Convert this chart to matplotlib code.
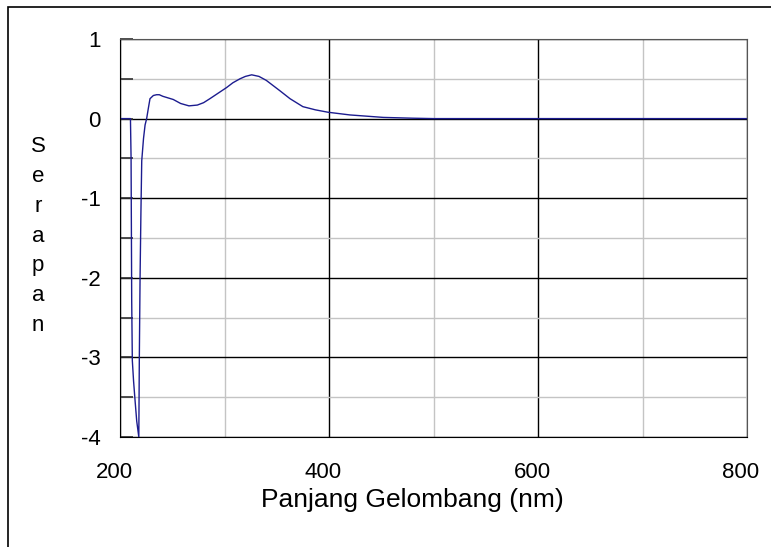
import matplotlib.pyplot as plt
from matplotlib.patches import Rectangle
from matplotlib.ticker import MultipleLocator
from matplotlib.transforms import ScaledTranslation

plt.rcParams['font.family'] = ['Liberation Sans', 'DejaVu Sans']
plt.rcParams['axes.unicode_minus'] = False

# data
wavelength = [200, 205, 210, 210.6, 211.2, 211.8, 213.0, 214.4, 216.0, 218.0, 218.5,
              219.2, 220.0, 220.8, 222.5, 224.0, 225.5, 227.0, 228.7, 231.9, 235.0,
              237.6, 241.0, 246.0, 251.0, 258.0, 266.0, 274.0, 280.0, 286.0, 294.0,
              302.0, 308.0, 314.8, 320.0, 326.0, 333.0, 340.0, 346.0, 353.0, 362.7,
              375.0, 387.0, 399.0, 420.0, 452.0, 480.0, 500.0, 600.0, 700.0, 800.0]
absorbance = [0.0, 0.0, 0.0, -0.5, -2.29, -3.04, -3.3, -3.54, -3.8, -4.0, -3.0,
              -2.0, -1.2, -0.53, -0.25, -0.08, 0.0, 0.12, 0.25, 0.29, 0.30,
              0.30, 0.28, 0.26, 0.24, 0.19, 0.16, 0.17, 0.20, 0.25, 0.32,
              0.39, 0.45, 0.50, 0.53, 0.55, 0.53, 0.48, 0.42, 0.35, 0.25,
              0.15, 0.11, 0.08, 0.046, 0.015, 0.005, 0.0, 0.0, 0.0, 0.0]

x_ticks = [200, 400, 600, 800]
y_ticks = [1, 0, -1, -2, -3, -4]

fig = plt.figure(figsize=(7.71, 5.47), dpi=100)
ax = fig.add_axes([120 / 771, 1 - 437 / 547, 627 / 771, 398 / 547])

ax.plot(wavelength, absorbance, color='#1c1c8f', lw=1.0, clip_on=True)

ax.set_xlim(200, 800)
ax.set_ylim(-4, 1)
ax.set_xticks(x_ticks)
ax.set_yticks(y_ticks)
ax.xaxis.set_minor_locator(MultipleLocator(100))
ax.yaxis.set_minor_locator(MultipleLocator(0.5))

ax.grid(which='major', color='black', lw=1.0)
ax.grid(which='minor', color='#c4c4c4', lw=1.0)
ax.set_axisbelow(True)

ax.tick_params(axis='y', which='both', direction='in', length=9, width=1.2,
               color='#303030', labelsize=16, pad=14)
ax.tick_params(axis='x', which='both', length=0, labelsize=16, pad=18)
for lab in ax.get_yticklabels():
    lab.set_horizontalalignment('right')
# labels sit a little left of their gridlines in the original
shift = ScaledTranslation(-6 / 100, 0, fig.dpi_scale_trans)
for lab in ax.get_xticklabels():
    lab.set_transform(lab.get_transform() + shift)

for s in ['left', 'bottom']:
    ax.spines[s].set_color('black')
for s in ['top', 'right']:
    ax.spines[s].set_color('#555555')

fig.text(412 / 771, 1 - 507 / 547, 'Panjang Gelombang (nm)', fontsize=19,
         ha='center', va='baseline')
fig.text(38 / 771, 1 - 236 / 547, '\n'.join('Serapan'), fontsize=16,
         ha='center', va='center', linespacing=1.55)

# outer chart frame
fig.patches.append(Rectangle((8 / 771, -0.1), 1.2, 1 - 7 / 547 + 0.1,
                             transform=fig.transFigure, fill=False,
                             edgecolor='black', lw=1.2))

fig.savefig('out.png', dpi=100)
